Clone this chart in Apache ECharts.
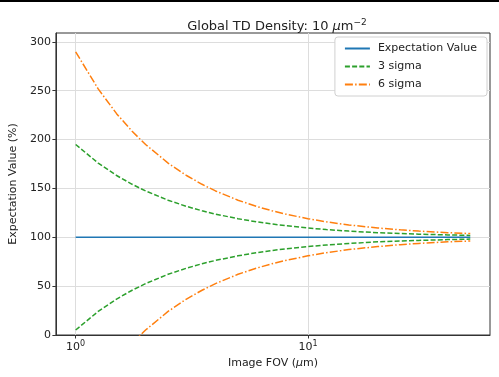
<!DOCTYPE html>
<html>
<head>
<meta charset="utf-8">
<script src="https://cdn.jsdelivr.net/npm/echarts@6/dist/echarts.min.js"></script>
<style>
  html, body { margin: 0; padding: 0; background: #fff; }
  #chart { width: 499px; height: 377px; }
</style>
</head>
<body>
<div id="chart"></div>
<script>
// values (x in um, y in %)
const fov = [1, 1.25, 1.5, 1.75, 2, 2.5, 3, 3.5, 4, 5, 6, 7, 8, 10, 12, 15, 20, 25, 30, 40, 50]
const expectation = [100, 100, 100, 100, 100, 100, 100, 100, 100, 100, 100, 100, 100, 100, 100, 100, 100, 100, 100, 100, 100]
const upper3 = [194.9, 175.9, 163.2, 154.2, 147.4, 137.9, 131.6, 127.1, 123.7, 119.0, 115.8, 113.6, 111.9, 109.5, 107.9, 106.3, 104.7, 103.8, 103.2, 102.4, 101.9]
const lower3 = [5.1, 24.1, 36.8, 45.8, 52.6, 62.1, 68.4, 72.9, 76.3, 81.0, 84.2, 86.4, 88.1, 90.5, 92.1, 93.7, 95.3, 96.2, 96.8, 97.6, 98.1]
const upper6 = [289.7, 251.8, 226.5, 208.4, 194.9, 175.9, 163.2, 154.2, 147.4, 137.9, 131.6, 127.1, 123.7, 119.0, 115.8, 112.6, 109.5, 107.6, 106.3, 104.7, 103.8]
const lower6 = [-89.7, -51.8, -26.5, -8.4, 5.1, 24.1, 36.8, 45.8, 52.6, 62.1, 68.4, 72.9, 76.3, 81.0, 84.2, 87.4, 90.5, 92.4, 93.7, 95.3, 96.2]

const xTicks = [1, 10]
const yTicks = [0, 50, 100, 150, 200, 250, 300]

const font = 'DejaVu Sans'
const blue = '#1f77b4'
const green = '#2ca02c'
const orange = '#ff7f0e'

const pairs = arr => fov.map((x, i) => [x, arr[i]])

const myChart = echarts.init(document.getElementById('chart'))

function lineSeries(name, arr, color, type) {
  return {
    name,
    type: 'line',
    data: pairs(arr),
    symbol: 'none',
    clip: true,
    lineStyle: { width: 1.5, color, type },
    itemStyle: { color },
    emphasis: { disabled: true }
  }
}

const option = {
  animation: false,
  backgroundColor: '#fff',
  title: {
    text: 'Global TD Density: 10 {mu|μ}m{sup|−2}',
    left: 272,
    textAlign: 'center',
    top: 13,
    textStyle: {
      fontFamily: font,
      fontSize: 13,
      fontWeight: 'normal',
      color: '#222',
      rich: {
        mu: { fontFamily: font, fontSize: 13, fontStyle: 'italic', color: '#222' },
        sup: { fontFamily: font, fontSize: 9, color: '#222', padding: [0, 0, 8, 0] }
      }
    }
  },
  legend: {
    orient: 'vertical',
    right: 12,
    top: 37,
    itemWidth: 25,
    itemHeight: 12,
    itemGap: 7,
    padding: [6, 10, 6, 9],
    backgroundColor: '#fff',
    borderColor: '#d0d0d0',
    borderWidth: 1,
    borderRadius: 3,
    itemStyle: { opacity: 0 },
    textStyle: { fontFamily: font, fontSize: 11, color: '#222', padding: [0, 0, 0, 3] },
    data: ['Expectation Value', '3 sigma', '6 sigma']
  },
  grid: {
    left: 53,
    right: 9,
    top: 33,
    bottom: 42,
    show: true,
    borderColor: '#333',
    borderWidth: 1
  },
  xAxis: {
    type: 'log',
    logBase: 10,
    min: 0.822,
    max: 60.8,
    name: 'Image FOV ({mu|μ}m)',
    nameLocation: 'middle',
    nameGap: 19,
    nameTextStyle: {
      fontFamily: font,
      fontSize: 11,
      color: '#222',
      rich: { mu: { fontFamily: font, fontSize: 11, fontStyle: 'italic', color: '#222' } }
    },
    axisLine: { show: true, lineStyle: { color: '#333' } },
    axisTick: { show: true, length: 3.5, customValues: xTicks, lineStyle: { color: '#333' } },
    axisLabel: {
      customValues: xTicks,
      margin: 5,
      fontFamily: font,
      fontSize: 11,
      color: '#222',
      formatter: v => '10{sup|' + Math.round(Math.log10(v)) + '}',
      rich: {
        sup: { fontFamily: font, fontSize: 8, color: '#222', padding: [0, 0, 7, 0] }
      }
    },
    splitLine: { show: true, lineStyle: { color: '#dddddd', width: 1 } },
    minorTick: { show: false }
  },
  yAxis: {
    type: 'value',
    min: 0,
    max: 309,
    interval: 50,
    name: 'Expectation Value (%)',
    nameLocation: 'middle',
    nameGap: 25,
    nameTextStyle: { fontFamily: font, fontSize: 11, color: '#222' },
    axisLine: { show: true, lineStyle: { color: '#333' } },
    axisTick: { show: true, length: 3.5, customValues: yTicks, lineStyle: { color: '#333' } },
    axisLabel: {
      customValues: yTicks,
      margin: 5,
      fontFamily: font,
      fontSize: 11,
      color: '#222'
    },
    splitLine: { show: true, lineStyle: { color: '#dddddd', width: 1 } }
  },
  graphic: [
    { type: 'rect', left: 0, top: 0, shape: { width: 499, height: 2 }, style: { fill: '#000' }, silent: true }
  ],
  series: [
    lineSeries('Expectation Value', expectation, blue, 'solid'),
    lineSeries('3 sigma', upper3, green, [5, 2.2]),
    lineSeries('3 sigma', lower3, green, [5, 2.2]),
    lineSeries('6 sigma', upper6, orange, [8, 2.2, 1.5, 2.2]),
    lineSeries('6 sigma', lower6, orange, [8, 2.2, 1.5, 2.2])
  ]
}

myChart.setOption(option)
</script>
</body>
</html>
